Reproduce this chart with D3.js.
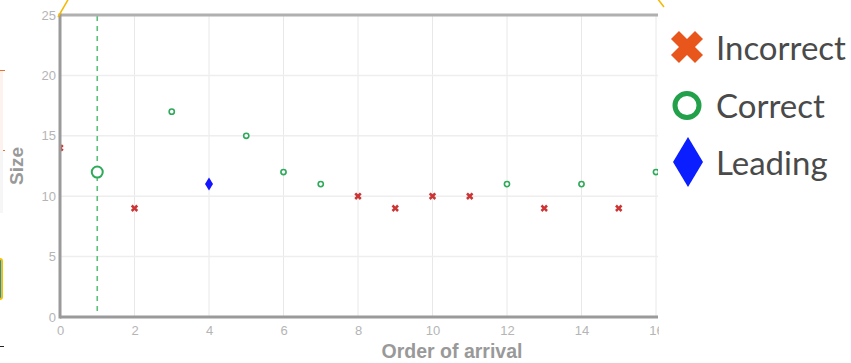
<!DOCTYPE html>
<html><head><meta charset="utf-8">
<script src="https://cdn.jsdelivr.net/npm/d3@7"></script>
<style>body{margin:0;background:#fff;overflow:hidden}</style>
</head><body>
<svg id="c" width="851" height="363"></svg>
<script>
// Data
const arrival = [0,1,2,3,4,5,6,7,8,9,10,11,12,13,14,15,16];
const sizes   = [14,12,9,17,11,15,12,11,10,9,10,10,11,9,11,9,12];
const kinds   = ["Incorrect","Correct","Incorrect","Correct","Leading","Correct","Correct","Correct","Incorrect","Incorrect","Incorrect","Incorrect","Correct","Incorrect","Correct","Incorrect","Correct"];
const highlightArrival = 1;
const xTicks = [0,2,4,6,8,10,12,14,16];
const yTicks = [0,5,10,15,20,25];
const legendLabels = ["Incorrect","Correct","Leading"];

const svg = d3.select("#c");
const L = 60, T = 15, W = 598, H = 302;
const x = d3.scaleLinear().domain([0,16]).range([L, L+596]);
const y = d3.scaleLinear().domain([0,25]).range([T+H, T]);

// decorative screenshot artifacts
svg.append("rect").attr("x",-2).attr("y",70).attr("width",5).attr("height",80).attr("fill","#fdf3ee");
svg.append("line").attr("x1",0).attr("y1",70.5).attr("x2",5).attr("y2",70.5).attr("stroke","#f07030");
svg.append("line").attr("x1",0).attr("y1",150.5).attr("x2",5).attr("y2",150.5).attr("stroke","#f07030");
svg.append("rect").attr("x",-2).attr("y",150).attr("width",5).attr("height",63).attr("fill","#f6f6f6");
svg.append("rect").attr("x",-3).attr("y",259).attr("width",5).attr("height",40).attr("rx",2).attr("fill","#1a8fd0").attr("stroke","#f5c000").attr("stroke-width",2);
svg.append("line").attr("x1",0).attr("y1",346.5).attr("x2",4).attr("y2",346.5).attr("stroke","#222");

// grid
const g = svg.append("g");
g.selectAll(".vg").data(xTicks).join("line")
  .attr("x1",d=>x(d)).attr("x2",d=>x(d)).attr("y1",T).attr("y2",T+H)
  .attr("stroke","#e8e8e8").attr("stroke-width",1);
g.selectAll(".hg").data(yTicks).join("line")
  .attr("x1",L).attr("x2",L+W).attr("y1",d=>y(d)).attr("y2",d=>y(d))
  .attr("stroke","#eeeeee").attr("stroke-width",1.5);

// axes (labels only)
const xa = svg.append("g").attr("transform",`translate(0,${T+H})`)
  .call(d3.axisBottom(x).tickValues(xTicks).tickSize(0).tickPadding(9));
xa.select(".domain").remove();
xa.selectAll("text").attr("fill","#b5b5b5").attr("font-family","Liberation Sans, Arial, sans-serif").attr("font-size",13);
const ya = svg.append("g").attr("transform",`translate(${L},0)`)
  .call(d3.axisLeft(y).tickValues(yTicks).tickSize(0).tickPadding(4));
ya.select(".domain").remove();
ya.selectAll("text").attr("fill","#b5b5b5").attr("font-family","Liberation Sans, Arial, sans-serif").attr("font-size",13);

// axis titles
svg.append("text").attr("x",452).attr("y",358).attr("text-anchor","middle")
  .attr("font-family","Liberation Sans, Arial, sans-serif").attr("font-weight","bold").attr("font-size",19.5)
  .attr("fill","#999").text("Order of arrival");
svg.append("text").attr("transform","translate(23,166) rotate(-90)").attr("text-anchor","middle")
  .attr("font-family","Liberation Sans, Arial, sans-serif").attr("font-weight","bold").attr("font-size",19)
  .attr("fill","#999").text("Size");

// dashed highlight line
svg.append("line").attr("x1",x(highlightArrival)).attr("x2",x(highlightArrival)).attr("y1",T+1).attr("y2",T+H-1)
  .attr("stroke","#5cc07c").attr("stroke-width",1.6).attr("stroke-dasharray","5,5");

// points
svg.append("clipPath").attr("id","pc").append("rect").attr("x",L).attr("y",0).attr("width",W).attr("height",T+H);
const pg = svg.append("g").attr("clip-path","url(#pc)");
const pts = arrival.map((a,i)=>({a, s:sizes[i], k:kinds[i]}));
const xSym = d3.symbol().type(d3.symbolCross).size(34);
const diamond = (w,h)=>`M0,${-h/2}L${w/2},0L0,${h/2}L${-w/2},0Z`;
pts.forEach(p=>{
  const cx = x(p.a), cy = y(p.s);
  if (p.k==="Incorrect") {
    pg.append("path").attr("d",xSym()).attr("transform",`translate(${cx},${cy}) rotate(45)`).attr("fill","#cc3535");
  } else if (p.k==="Correct") {
    const big = p.a===highlightArrival;
    pg.append("circle").attr("cx",cx).attr("cy",cy).attr("r",big?5.5:2.6)
      .attr("fill","#fff").attr("stroke","#2eaa5a").attr("stroke-width",big?2:1.6);
  } else {
    pg.append("path").attr("d",diamond(8,13)).attr("transform",`translate(${cx},${cy})`).attr("fill","#1414ff");
  }
});

// frame
svg.append("line").attr("x1",L).attr("x2",L+W).attr("y1",T).attr("y2",T).attr("stroke","#b0b0b0").attr("stroke-width",3);
svg.append("line").attr("x1",L).attr("x2",L).attr("y1",T-1.5).attr("y2",T+H+1.5).attr("stroke","#9a9a9a").attr("stroke-width",3);
svg.append("line").attr("x1",L).attr("x2",L+W).attr("y1",T+H).attr("y2",T+H).attr("stroke","#9a9a9a").attr("stroke-width",3);

// legend panel overlapping the chart's right edge
svg.append("rect").attr("x",L+W+1).attr("y",0).attr("width",851-(L+W+1)).attr("height",363).attr("fill","#fff");
svg.append("line").attr("x1",58).attr("y1",17).attr("x2",69).attr("y2",-2).attr("stroke","#f5b800").attr("stroke-width",1.5);
svg.append("line").attr("x1",657).attr("y1",-2).attr("x2",664).attr("y2",7).attr("stroke","#f5b800").attr("stroke-width",1.5);

const lg = svg.append("g");
const ly = d3.scalePoint().domain(legendLabels).range([47,162]);
const bigX = d3.symbol().type(d3.symbolCross).size(640);
lg.append("path").attr("d",bigX()).attr("transform",`translate(687,${ly("Incorrect")}) rotate(45)`).attr("fill","#e8561c");
lg.append("circle").attr("cx",687).attr("cy",ly("Correct")+1).attr("r",12).attr("fill","none").attr("stroke","#23a04a").attr("stroke-width",5);
lg.append("path").attr("d",diamond(30,50)).attr("transform",`translate(688,${ly("Leading")})`).attr("fill","#0a1eff");
lg.selectAll("text").data(legendLabels).join("text")
  .attr("x",716).attr("y",d=>ly(d)+13)
  .attr("font-family","Lato, 'Open Sans', sans-serif").attr("font-size",33)
  .attr("fill","#4a4a4a").text(d=>d);
</script>
</body></html>
